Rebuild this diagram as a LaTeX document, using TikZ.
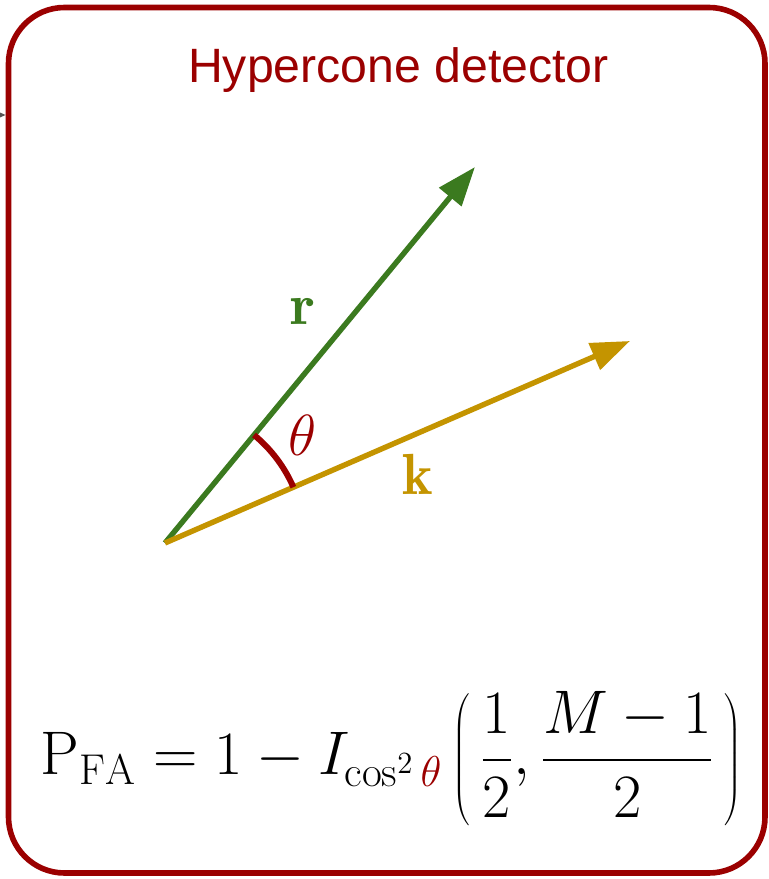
\RequirePackage{fix-cm}
\documentclass[tikz,border=0pt]{standalone}
\usepackage{fontspec}
\usepackage{xcolor}
\usepackage{tikz}
\usetikzlibrary{arrows.meta}
\newfontfamily\hcsans{Liberation Sans}
\definecolor{hcred}{HTML}{9B0000}
\definecolor{hcgreen}{HTML}{3B7A1F}
\definecolor{hcgold}{HTML}{C49400}
\definecolor{hcgray}{HTML}{555555}

\begin{document}
\begin{tikzpicture}[x=0.5pt, y=0.5pt,
      frame/.style={draw=hcred, line width=2.8pt, rounded corners=28pt, inner sep=0pt,
                    minimum width=378.25pt, minimum height=432.75pt},
      vec/.style={line width=2.7pt, -{Triangle[length=19.5pt, width=14pt]}},
      lbl/.style={font=\fontsize{29pt}{34pt}\selectfont, inner sep=0pt}]
    \useasboundingbox (0,0) rectangle (769,879);
    \node[frame] (box) at (386.75,438.75) {};
    \coordinate (src) at (-40,764);
    \draw[hcgray, line width=1pt, -{Triangle[length=6pt, width=5pt]}] (src) -- (box.west |- src);
    \node[anchor=base, text=hcred, font=\hcsans\fontsize{24.1pt}{28pt}\selectfont] (title) at (398.5,796) {Hypercone detector};
    \coordinate (o) at (165,336);
    \coordinate (rtip) at (475,712);
    \coordinate (ktip) at (630,538);
    \draw[vec, hcgreen] (o) -- (rtip);
    \draw[vec, hcgold] (o) -- (ktip);
    \draw[hcred, line width=3pt] (o) ++(23.5:140) arc[start angle=23.5, end angle=50.5, radius=140];
    \node[lbl, text=hcgreen] (rl) at (303,568) {$\mathbf{r}$};
    \node[lbl, text=hcgold] (kl) at (418,405) {$\mathbf{k}$};
    \node[lbl, text=hcred] (th) at (303,444) {$\theta$};
    \node[anchor=base, font=\fontsize{30.8pt}{36pt}\selectfont] (pfa) at (391,104)
      {$\fontdimen8\textfont3=1.1pt \displaystyle \mathrm{P}_{\mathrm{FA}} = 1 - I_{\cos^2\textcolor{hcred}{\theta}}\left(\,\frac{1}{2},\frac{M-1}{2}\,\right)$};
  \end{tikzpicture}
\end{document}
